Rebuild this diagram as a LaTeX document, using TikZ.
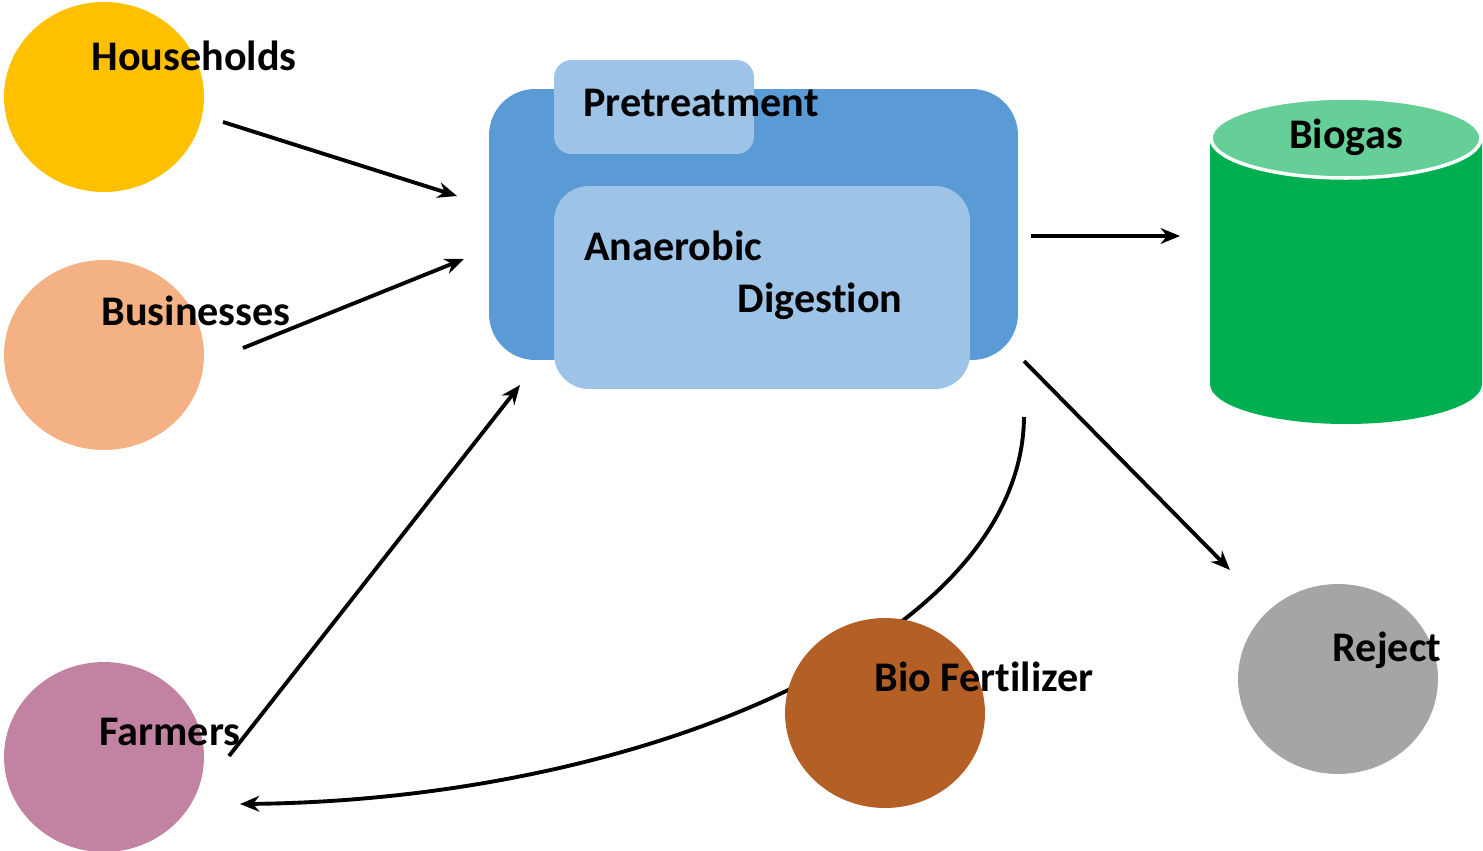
\documentclass[tikz,border=0pt]{standalone}
\usepackage{fontspec}
\setmainfont{Carlito}[Ligatures={NoCommon,NoContextual}, Contextuals=NoAlternate]
\usetikzlibrary{arrows.meta,shapes.geometric}
\definecolor{hhyellow}{HTML}{FFC000}
\definecolor{bspeach}{HTML}{F4B183}
\definecolor{fmpink}{HTML}{C283A3}
\definecolor{bfbrown}{HTML}{B45F26}
\definecolor{rjgrey}{HTML}{A5A5A5}
\definecolor{adblue}{HTML}{5B9BD5}
\definecolor{adlight}{HTML}{9DC3E6}
\definecolor{bggreen}{HTML}{00B050}
\definecolor{bgtop}{HTML}{66CF98}

\begin{document}
\begin{tikzpicture}[x=0.02cm, y=-0.02cm,
		blob/.style={ellipse, minimum width=4cm, minimum height=3.8cm, inner sep=0pt},
		lbl/.style={font=\fontsize{24}{29}\selectfont\bfseries, anchor=base, inner sep=0pt},
		flow/.style={-{Stealth[length=11pt,width=9pt]}, line width=2.2pt}]
			\useasboundingbox (0,0) rectangle (1483,851);
			% digester block
			\node[fill=adblue, minimum width=10.58cm, minimum height=5.42cm, rounded corners=0.92cm] (plant) at (753.5,224.5) {};
			\node[fill=adlight, minimum width=4cm, minimum height=1.88cm, rounded corners=0.35cm] (pre) at (654,107) {};
			\node[fill=adlight, minimum width=8.32cm, minimum height=4.06cm, rounded corners=0.7cm] (dig) at (762,287.5) {};
			\node[lbl] (pretxt) at (701,117) {Pretreatment};
			\node[lbl] (digtxta) at (673,260) {Anaerobic};
			\node[lbl] (digtxtb) at (820,312) {Diges\kern0pt tion};
			% biogas tank
			\fill[bggreen] (1210,138) -- (1210,384) arc[start angle=180, end angle=0, x radius=136, y radius=40] -- (1482,138) -- cycle;
			\filldraw[fill=bgtop, draw=white, line width=2pt] (1346,138) ellipse[x radius=135, y radius=40];
			\node[lbl] (gas) at (1346,149) {Biogas};
			% sources
			\node[blob, fill=hhyellow] (hh) at (104,97) {};
			\node[blob, fill=bspeach] (bs) at (104,355) {};
			\node[blob, fill=fmpink] (fm) at (104,757) {};
			\node[lbl] (hhtxt) at (194,71) {Households};
			\node[lbl] (bstxt) at (196,325) {Businesses};
			\node[lbl] (fmtxt) at (170,745) {Farmers};
			% arrow ends
			\coordinate (hhout) at (223,122);
			\coordinate (hhin) at (457,196);
			\coordinate (bsout) at (243,348);
			\coordinate (bsin) at (464,259);
			\coordinate (fmout) at (229,756);
			\coordinate (fmin) at (520,385);
			\coordinate (gasout) at (1031,236);
			\coordinate (gasin) at (1180,236);
			\coordinate (rjout) at (1024,361);
			\coordinate (rjin) at (1230,570);
			\coordinate (bfout) at (1024,417);
			\coordinate (bfin) at (240,804);
			\draw[flow] (hhout) -- (hhin);
			\draw[flow] (bsout) -- (bsin);
			\draw[flow] (fmout) -- (fmin);
			\draw[flow] (gasout) -- (gasin);
			\draw[flow] (rjout) -- (rjin);
			\draw[flow] (bfout) .. controls (1022,640) and (640,800) .. (bfin);
			% outputs
			\node[blob, fill=bfbrown] (bf) at (885,713) {};
			\node[blob, fill=rjgrey] (rj) at (1338,679) {};
			\node[lbl] (bftxt) at (984,691) {Bio Fert\kern0pt ilizer};
			\node[lbl] (rjtxt) at (1387,661) {Reject};
			\end{tikzpicture}
\end{document}
